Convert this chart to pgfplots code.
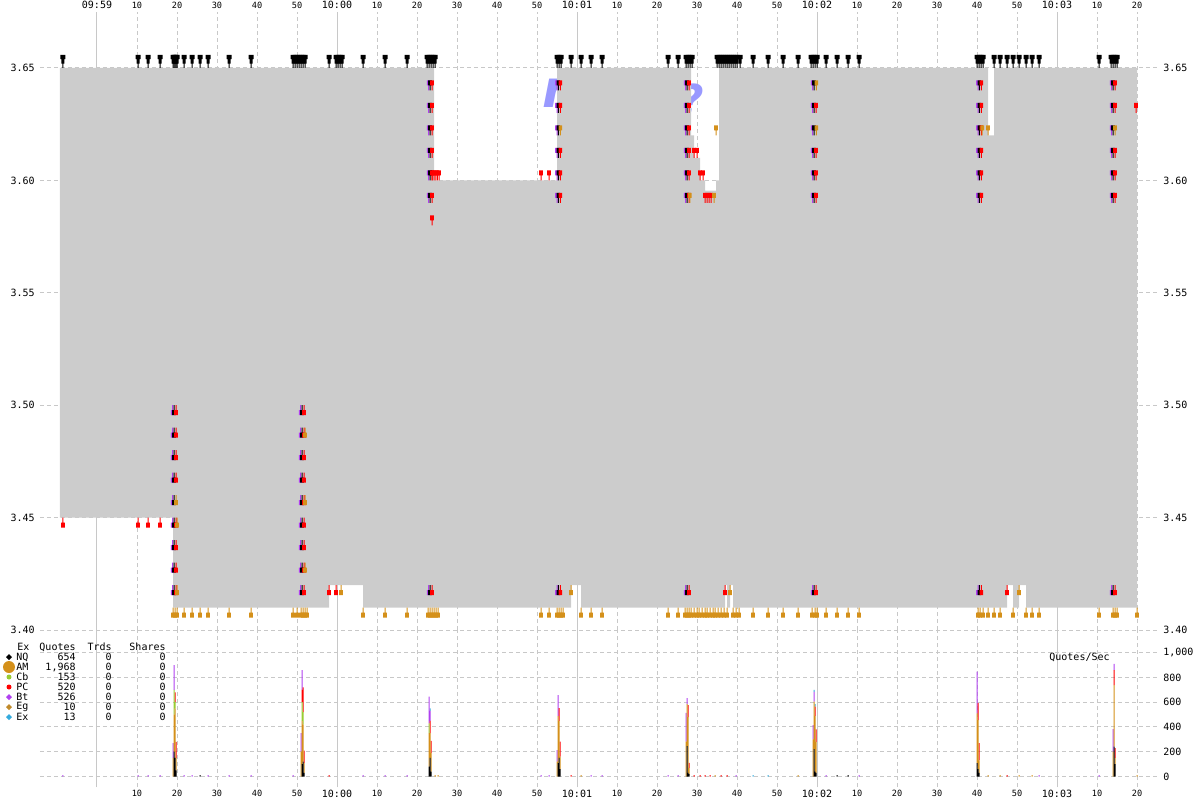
\documentclass[border=0pt]{standalone}
\usepackage{pgfplots}
\usepackage{pgfplotstable}
\pgfplotsset{compat=1.18}
\usepackage{fontspec}
\setmainfont{DejaVu Sans Mono}
\newfontfamily\wmfont{DejaVu Sans}

\definecolor{cgrey}{HTML}{CCCCCC}
\definecolor{cgrid}{HTML}{C8C8C8}
\definecolor{cAM}{HTML}{D4901A}
\definecolor{cPC}{HTML}{FF0000}
\definecolor{cBt}{HTML}{B040F0}
\definecolor{cCb}{HTML}{99CC33}
\definecolor{cEx}{HTML}{33AADD}
\definecolor{cEg}{HTML}{C08A2A}
\definecolor{cWm}{HTML}{9999FF}

\newcommand\sm{\fontsize{4.3}{5}\selectfont}
\newcommand\md{\fontsize{5}{6}\selectfont}

% quote markers: ask = block above the price, bid = block below
\pgfdeclareplotmark{toppin}{%
  \pgfpathrectangle{\pgfpoint{-0.25pt}{0pt}}{\pgfpoint{0.5pt}{2.2pt}}%
  \pgfpathrectangle{\pgfpoint{-0.75pt}{2.2pt}}{\pgfpoint{1.5pt}{2.2pt}}%
  \pgfpathrectangle{\pgfpoint{-1.25pt}{4.4pt}}{\pgfpoint{2.5pt}{2.2pt}}%
  \pgfusepathqfill}
\pgfdeclareplotmark{askpin}{%
  \pgfpathrectangle{\pgfpoint{-0.25pt}{0pt}}{\pgfpoint{0.5pt}{2.5pt}}%
  \pgfpathrectangle{\pgfpoint{-0.9pt}{2.5pt}}{\pgfpoint{1.8pt}{2.5pt}}%
  \pgfusepathqfill}
\pgfdeclareplotmark{bidpin}{%
  \pgfpathrectangle{\pgfpoint{-0.25pt}{-2.5pt}}{\pgfpoint{0.5pt}{2.5pt}}%
  \pgfpathrectangle{\pgfpoint{-0.9pt}{-5pt}}{\pgfpoint{1.8pt}{2.5pt}}%
  \pgfusepathqfill}

% quotes per second, one row per 1/4 s column
\pgfplotstableread{
s      NQ  AM  Cb  PC  Bt  Eg  Ex
-8.5   0   0   0   0   12  0   0
10.25  0   0   0   0   12  0   0
12.75  0   0   0   0   12  0   0
15.75  0   0   0   0   12  0   0
19.0   0   150 0   0   120 0   0
19.25  200 300 200 0   200 0   0
19.5   150 400 50  80  0   0   0
19.75  50  100 0   130 0   0   0
21.75  0   0   0   0   12  0   0
23.75  0   0   0   0   12  0   0
25.75  12  0   0   0   0   0   0
27.75  0   0   0   0   12  0   0
33     0   0   0   0   12  0   0
38.5   0   0   0   0   12  0   0
49     0   0   0   0   12  0   0
51.0   0   200 0   0   150 0   0
51.25  100 350 150 100 160 0   0
51.5   120 300 100 200 0   0   0
51.75  30  80  0   100 0   0   0
58     0   0   0   12  0   0   0
66.5   0   0   0   0   12  0   0
72     0   0   0   0   12  0   0
77.5   0   0   0   0   12  0   0
83.0   80  270 80  0   215 0   0
83.25  150 200 0   100 80  0   20
83.5   40  150 0   97  0   0   0
84.5   0   12  0   0   0   0   0
85.25  0   12  0   0   0   0   0
111    0   0   0   0   12  0   0
113    0   0   0   0   12  0   0
115.0  0   120 0   0   94  0   0
115.25 109 379 0   0   170 0   0
115.5  150 300 0   103 0   0   0
115.75 60  100 0   121 0   0   0
118.5  0   0   0   12  0   0   0
121    0   12  0   0   0   0   0
123.5  0   0   0   0   12  0   0
126.25 0   0   0   0   12  0   0
142.75 0   0   0   0   12  0   0
145.25 0   0   0   0   12  0   0
147.25 0   281 0   0   232 0   0
147.5  246 339 0   0   49  0   0
147.75 30  450 0   97  0   0   0
148.0  20  50  0   40  0   0   0
149.25 0   0   0   12  0   0   0
150.75 0   0   0   12  0   0   0
152    0   0   0   12  0   0   0
153.25 0   0   0   12  0   0   0
154.5  0   12  0   0   0   0   0
156    0   0   0   12  0   0   0
157.5  0   0   0   12  0   0   0
159.75 0   0   0   0   12  0   0
164    0   0   0   0   0   0   12
167.75 0   0   0   0   0   0   12
175.25 0   12  0   0   0   0   0
179.0  0   300 0   0   116 0   0
179.25 222 382 0   0   80  0   15
179.5  40  450 0   74  0   0   20
179.75 30  250 0   100 0   0   0
182.25 0   0   0   0   12  0   0
185    12  0   0   0   0   0   0
187.75 12  0   0   0   0   0   0
190.5  0   0   0   0   12  0   0
220.0  109 400 0   0   338 0   0
220.25 60  396 0   137 0   0   0
220.5  30  100 0   140 0   0   0
222.75 0   12  0   0   0   0   0
225.75 0   12  0   0   0   0   0
227.5  0   0   0   12  0   0   0
230.5  0   12  0   0   0   0   0
233.75 0   12  0   0   0   0   0
235.5  0   0   0   0   12  0   0
250.5  0   0   0   0   12  0   0
254.0  0   200 0   0   183 0   0
254.25 241 498 0   121 49  0   0
254.5  100 50  0   80  0   0   0
260    0   12  0   0   0   0   0
}\qps

\pgfplotsset{
  chart/.style={
    scale only axis, width=559pt, anchor=south west,
    xmin=-14.25, xmax=265.25,
    axis line style={draw=none}, major tick length=0pt,
    xtick={0,10,...,260},
    xmajorgrids, ymajorgrids,
    major grid style={cgrid, line width=0.5pt, dash pattern=on 2pt off 1.5pt},
    extra x ticks={0,60,120,180,240}, extra x tick labels={},
    extra x tick style={grid=major, major grid style={cgrid, line width=0.5pt, solid}},
  },
}

\begin{document}
\begin{tikzpicture}
\path[use as bounding box] (0,0) rectangle (600pt,400pt);

% ---------------- price panel ----------------
\begin{axis}[chart, at={(20pt,85pt)}, height=309pt,
  ymin=3.40, ymax=3.6749,
  xticklabel pos=upper,
  xticklabels={{\md 09:59},10,20,30,40,50,{\md 10:00},10,20,30,40,50,{\md 10:01},10,20,30,40,50,{\md 10:02},10,20,30,40,50,{\md 10:03},10,20},
  xticklabel style={font=\sm, inner sep=0pt, anchor=south, yshift=1.5pt},
  ytick={3.40,3.45,3.50,3.55,3.60,3.65},
  yticklabels={3.40,3.45,3.50,3.55,3.60,3.65},
  yticklabel style={font=\md, inner sep=0pt, anchor=east, xshift=-2.5pt},
]
\node[font=\wmfont\fontsize{26}{26}\selectfont\bfseries\itshape, text=cWm, anchor=base west]
  at (axis cs:109.5,3.6325) {r};
\node[font=\wmfont\fontsize{22}{22}\selectfont\bfseries\itshape, text=cWm, anchor=base west]
  at (axis cs:143.6,3.6285) {?};

% NBBO spread
\addplot[fill=cgrey, draw=none] coordinates {
 (-9.25,3.65) (84.25,3.65) (84.25,3.60) (115,3.60) (115,3.65) (148.5,3.65)
 (148.5,3.62) (149.25,3.62) (149.25,3.61) (150.75,3.61) (150.75,3.60) (152,3.60)
 (152,3.5955) (154.75,3.5955) (154.75,3.60) (155.5,3.60) (155.5,3.65)
 (222.75,3.65) (222.75,3.62) (224.25,3.62) (224.25,3.65) (260,3.65)
 (260,3.41) (232.25,3.41) (232.25,3.42) (230.5,3.42) (230.5,3.41) (229,3.41)
 (229,3.42) (227.5,3.42) (227.5,3.41) (159,3.41) (159,3.42) (158.25,3.42)
 (158.25,3.41) (157.5,3.41) (157.5,3.42) (157,3.42) (157,3.41) (121,3.41)
 (121,3.42) (118.5,3.42) (118.5,3.41) (66.5,3.41) (66.5,3.42) (58,3.42)
 (58,3.41) (19,3.41) (19,3.45) (-9.25,3.45)};

% best ask quotes
\addplot[only marks, mark=toppin, color=black] coordinates {
 (-8.5,3.65)(10.25,3.65)(12.75,3.65)(15.75,3.65)(19,3.65)(19.25,3.65)(19.5,3.65)
 (19.75,3.65)(20,3.65)(21.75,3.65)(23.75,3.65)(25.75,3.65)(27.75,3.65)(33,3.65)
 (38.5,3.65)(49,3.65)(49.5,3.65)(50,3.65)(50.5,3.65)(51,3.65)(51.5,3.65)(52,3.65)
 (58,3.65)(59.75,3.65)(60.25,3.65)(60.75,3.65)(61.25,3.65)(66.5,3.65)(72,3.65)
 (77.5,3.65)(82.5,3.65)(83,3.65)(83.5,3.65)(84,3.65)(84.5,3.65)(115,3.65)
 (115.5,3.65)(116,3.65)(118.5,3.65)(121,3.65)(123.5,3.65)(126.25,3.65)
 (142.75,3.65)(145.25,3.65)(147.25,3.65)(147.75,3.65)(148.25,3.65)(148.75,3.65)
 (155,3.65)(155.5,3.65)(156,3.65)(156.5,3.65)(157,3.65)(157.5,3.65)(158,3.65)
 (158.5,3.65)(159,3.65)(159.5,3.65)(160,3.65)(160.75,3.65)(164,3.65)(167.75,3.65)
 (171.5,3.65)(175.25,3.65)(178.5,3.65)(179,3.65)(179.5,3.65)(180,3.65)
 (182.25,3.65)(185,3.65)(187.75,3.65)(190.5,3.65)(220,3.65)(220.5,3.65)
 (221,3.65)(221.5,3.65)(224.25,3.65)(225.75,3.65)(227.5,3.65)(229,3.65)
 (230.5,3.65)(232.25,3.65)(233.75,3.65)(235.5,3.65)(250.5,3.65)(253.5,3.65)
 (254,3.65)(254.5,3.65)(255,3.65)};

% best bid quotes
\addplot[only marks, mark=bidpin, color=cAM] coordinates {
 (19,3.41)(19.5,3.41)(20,3.41)(21.75,3.41)(23.75,3.41)(25.75,3.41)(27.75,3.41)
 (33,3.41)(38.5,3.41)(49,3.41)(50,3.41)(51,3.41)(51.5,3.41)(52,3.41)(52.5,3.41)
 (66.5,3.41)(72,3.41)(77.5,3.41)(82.75,3.41)(83.25,3.41)(83.75,3.41)(84.25,3.41)
 (84.75,3.41)(85.25,3.41)(111,3.41)(113,3.41)(115,3.41)(115.5,3.41)(116,3.41)
 (116.5,3.41)(121,3.41)(123.5,3.41)(126.25,3.41)(142.75,3.41)(145.25,3.41)
 (147,3.41)(147.5,3.41)(148,3.41)(148.5,3.41)(149.25,3.41)(150,3.41)(150.5,3.41)
 (151.25,3.41)(152,3.41)(152.5,3.41)(153.25,3.41)(154,3.41)(154.5,3.41)
 (155.25,3.41)(156,3.41)(156.75,3.41)(157.5,3.41)(159,3.41)(159.75,3.41)
 (160.5,3.41)(164,3.41)(167.75,3.41)(171.5,3.41)(175.25,3.41)(178.75,3.41)
 (179.5,3.41)(180,3.41)(182.25,3.41)(185,3.41)(187.75,3.41)(190.5,3.41)
 (220.25,3.41)(220.75,3.41)(221.5,3.41)(222.75,3.41)(224.25,3.41)(225.75,3.41)
 (229,3.41)(232.25,3.41)(233.75,3.41)(235.5,3.41)(250.5,3.41)(254,3.41)
 (254.5,3.41)(255,3.41)(260,3.41)
 (61,3.42)(118.5,3.42)(158.25,3.42)(230.5,3.42)};
\addplot[only marks, mark=bidpin, color=cPC] coordinates {
 (-8.5,3.45)(10.25,3.45)(12.75,3.45)(15.75,3.45)
 (58,3.42)(59.75,3.42)(157,3.42)(227.5,3.42)};

% single-exchange asks inside the white gaps
\addplot[only marks, mark=askpin, color=cPC] coordinates {
 (83.8,3.60)(84.25,3.60)(84.7,3.60)(85.1,3.60)(85.5,3.60)(111,3.60)(113,3.60)
 (149.25,3.61)(150,3.61)(150.75,3.60)(151.5,3.60)
 (152,3.59)(152.5,3.59)(153,3.59)(153.5,3.59)(83.75,3.58)(259.75,3.63)};
\addplot[only marks, mark=askpin, color=cAM] coordinates {
 (154.75,3.62)(154.25,3.59)(222.75,3.62)};

% bursts: bids walked up 3.42-3.50
\addplot[only marks, mark=bidpin, color=cBt] coordinates {
 (18.9,3.42)(18.9,3.43)(18.9,3.44)(18.9,3.45)(18.9,3.46)(18.9,3.47)(18.9,3.48)(18.9,3.49)(18.9,3.50)
 (50.9,3.42)(50.9,3.43)(50.9,3.44)(50.9,3.45)(50.9,3.46)(50.9,3.47)(50.9,3.48)(50.9,3.49)(50.9,3.50)
 (82.9,3.42)(115,3.42)(147.15,3.42)(178.9,3.42)(220.25,3.42)(253.65,3.42)};
\addplot[only marks, mark=bidpin, color=black] coordinates {
 (19.25,3.42)(19.25,3.43)(19.25,3.44)(19.25,3.45)(19.25,3.46)(19.25,3.47)(19.25,3.48)(19.25,3.49)(19.25,3.50)
 (51.25,3.42)(51.25,3.43)(51.25,3.44)(51.25,3.45)(51.25,3.46)(51.25,3.47)(51.25,3.48)(51.25,3.49)(51.25,3.50)
 (83.25,3.42)(115.35,3.42)(147.5,3.42)(179.25,3.42)(220.6,3.42)(254,3.42)};
\addplot[only marks, mark=bidpin, color=cPC] coordinates {
 (19.75,3.42)(19.75,3.43)(19.75,3.44)(19.75,3.45)(19.75,3.47)(19.75,3.48)(19.75,3.49)(19.75,3.50)
 (51.75,3.42)(51.75,3.43)(51.75,3.44)(51.75,3.45)(51.75,3.46)(51.75,3.47)(51.75,3.48)(51.75,3.49)(51.75,3.50)
 (83.75,3.42)(115.85,3.42)(148,3.42)(179.75,3.42)(221.1,3.42)(254.5,3.42)};
\addplot[only marks, mark=bidpin, color=cAM] coordinates {
 (19.75,3.46)(20,3.45)(20,3.42)(52,3.49)(52,3.46)(52,3.43)};

% bursts: asks walked down 3.64-3.59
\addplot[only marks, mark=askpin, color=cBt] coordinates {
 (82.9,3.64)(82.9,3.63)(82.9,3.62)(82.9,3.61)(82.9,3.60)(82.9,3.59)
 (115,3.64)(115,3.63)(115,3.62)(115,3.61)(115,3.60)(115,3.59)
 (147.15,3.64)(147.15,3.63)(147.15,3.62)(147.15,3.61)(147.15,3.60)(147.15,3.59)
 (178.9,3.64)(178.9,3.63)(178.9,3.62)(178.9,3.61)(178.9,3.60)(178.9,3.59)
 (220.25,3.64)(220.25,3.63)(220.25,3.62)(220.25,3.61)(220.25,3.60)(220.25,3.59)
 (253.65,3.64)(253.65,3.63)(253.65,3.62)(253.65,3.61)(253.65,3.60)(253.65,3.59)};
\addplot[only marks, mark=askpin, color=black] coordinates {
 (83.25,3.64)(83.25,3.63)(83.25,3.62)(83.25,3.61)(83.25,3.60)(83.25,3.59)
 (115.35,3.64)(115.35,3.63)(115.35,3.62)(115.35,3.61)(115.35,3.60)(115.35,3.59)
 (147.5,3.64)(147.5,3.63)(147.5,3.62)(147.5,3.61)(147.5,3.60)(147.5,3.59)
 (179.25,3.64)(179.25,3.63)(179.25,3.62)(179.25,3.61)(179.25,3.60)(179.25,3.59)
 (220.6,3.64)(220.6,3.63)(220.6,3.62)(220.6,3.61)(220.6,3.60)(220.6,3.59)
 (254,3.64)(254,3.63)(254,3.62)(254,3.61)(254,3.60)(254,3.59)};
\addplot[only marks, mark=askpin, color=cPC] coordinates {
 (83.75,3.64)(83.75,3.63)(83.75,3.62)(83.75,3.61)(83.75,3.60)(83.75,3.59)
 (115.85,3.64)(115.85,3.63)(115.85,3.61)(115.85,3.60)(115.85,3.59)
 (148,3.64)(148,3.63)(148,3.62)(148,3.61)(148,3.60)(148,3.59)
 (179.75,3.63)(179.75,3.61)(179.75,3.60)(179.75,3.59)
 (221.1,3.64)(221.1,3.63)(221.1,3.62)(221.1,3.61)(221.1,3.60)(221.1,3.59)
 (254.5,3.64)(254.5,3.63)(254.5,3.61)(254.5,3.60)(254.5,3.59)};
\addplot[only marks, mark=askpin, color=cAM] coordinates {
 (115.85,3.62)(148.2,3.59)(179.85,3.64)(179.85,3.62)(221.3,3.62)(254.5,3.62)};
\end{axis}

% right-hand price labels
\begin{axis}[chart, at={(20pt,85pt)}, height=309pt,
  ymin=3.40, ymax=3.6749, xmajorgrids=false, ymajorgrids=false,
  xtick=\empty, extra x ticks={},
  ytick={3.40,3.45,3.50,3.55,3.60,3.65},
  yticklabels={3.40,3.45,3.50,3.55,3.60,3.65},
  yticklabel pos=right,
  yticklabel style={font=\md, inner sep=0pt, anchor=west, xshift=2.5pt},
]
\end{axis}

% ---------------- quotes per second panel ----------------
\begin{axis}[chart, at={(20pt,6.5pt)}, height=78.5pt,
  ymin=-84.8, ymax=1183.4,
  ybar stacked, bar width=0.25,
  xticklabel pos=lower,
  xticklabels={{},10,20,30,40,50,{\md 10:00},10,20,30,40,50,{\md 10:01},10,20,30,40,50,{\md 10:02},10,20,30,40,50,{\md 10:03},10,20},
  xticklabel style={font=\sm, inner sep=0pt, anchor=north, yshift=-1.5pt},
  ytick={0,200,400,600,800,1000},
  yticklabels={0,200,400,600,800,{1,000}},
  yticklabel pos=right,
  yticklabel style={font=\md, inner sep=0pt, anchor=west, xshift=2.5pt},
]
\addplot[fill=black, draw=none] table[x=s, y=NQ] {\qps};
\addplot[fill=cAM, draw=none] table[x=s, y=AM] {\qps};
\addplot[fill=cCb, draw=none] table[x=s, y=Cb] {\qps};
\addplot[fill=cPC, draw=none] table[x=s, y=PC] {\qps};
\addplot[fill=cBt, draw=none] table[x=s, y=Bt] {\qps};
\addplot[fill=cEg, draw=none] table[x=s, y=Eg] {\qps};
\addplot[fill=cEx, draw=none] table[x=s, y=Ex] {\qps};
\end{axis}

% legend table and panel title (pixel coordinates)
\begin{scope}[shift={(0pt,400pt)}, x=0.5pt, y=-0.5pt, font=\md, inner sep=0pt]
\node[anchor=west] at (17,647) {Ex};
\node[anchor=east] at (76,647) {Quotes};
\node[anchor=east] at (112,647) {Trds};
\node[anchor=east] at (166,647) {Shares};
\foreach \y/\ex/\q in {657/NQ/654, 667/AM/{1,968}, 677/Cb/153, 687/PC/520, 697/Bt/526, 707/Eg/10, 717/Ex/13} {
  \node[anchor=west] at (16,\y) {\ex};
  \node[anchor=east] at (76,\y) {\q};
  \node[anchor=east] at (112,\y) {0};
  \node[anchor=east] at (166,\y) {0};
}
\fill[black] (9,654) -- (12,657) -- (9,660) -- (6,657) -- cycle;
\fill[cAM] (9,667) circle[radius=6];
\fill[cCb] (9,677) circle[radius=2.5];
\fill[cPC] (9,687) circle[radius=2.5];
\fill[cBt] (9,694) -- (12,697) -- (9,700) -- (6,697) -- cycle;
\fill[cEg] (9,704) -- (12,707) -- (9,710) -- (6,707) -- cycle;
\fill[cEx] (9,714) -- (12,717) -- (9,720) -- (6,717) -- cycle;
\node at (1079.5,657) {Quotes/Sec};
\end{scope}
\end{tikzpicture}
\end{document}
